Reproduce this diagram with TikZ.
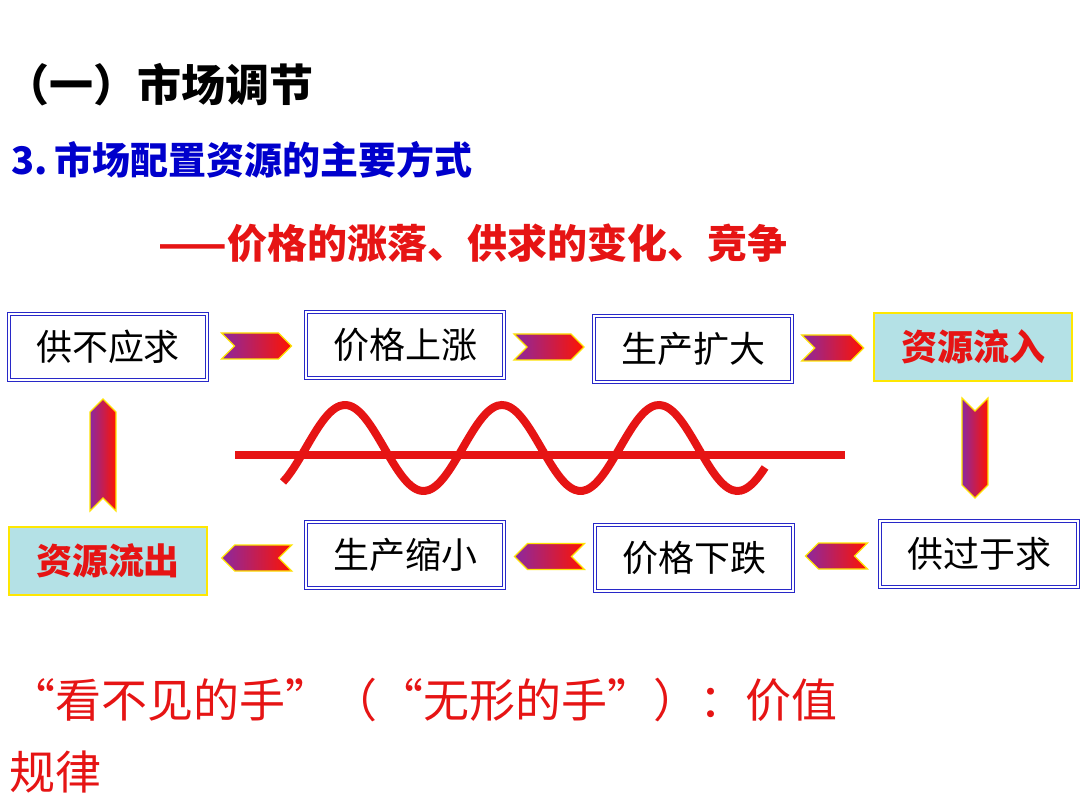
\documentclass[tikz,border=0pt]{standalone}
\usepackage{fontspec}
\setmainfont{Liberation Sans}
\newfontfamily\cjk{Noto Sans CJK SC}
\usetikzlibrary{shapes.symbols, positioning, calc}

\definecolor{boxblue}{RGB}{40,40,200}
\definecolor{lightcyan}{RGB}{180,225,230}
\definecolor{flowred}{RGB}{230,20,20}
\definecolor{arrpurple}{RGB}{140,40,160}

\tikzset{
	stepbox/.style={draw=boxblue, double=white, double distance=1.6pt, line width=0.8pt, fill=white,
		minimum width=198pt, minimum height=66pt, inner sep=0pt, font=\cjk\fontsize{36}{36}\selectfont},
	flowbox/.style={draw=yellow!90!orange, line width=2pt, fill=lightcyan, text=flowred,
		minimum width=198pt, minimum height=68pt, inner sep=0pt, font=\cjk\bfseries\fontsize{36}{36}\selectfont},
	fatarrow/.style={signal, draw=yellow!85!orange, line width=1.2pt, left color=arrpurple, right color=red!85!orange,
		minimum height=26pt, minimum width=70pt, inner sep=0pt},
}

\begin{document}
\begin{tikzpicture}[x=1pt, y=-1pt]
	\useasboundingbox (0,0) rectangle (1080,810);
	\fill[white] (0,0) rectangle (1080,810);

	% headings
	\node[anchor=west, font=\cjk\bfseries\fontsize{44}{44}\selectfont] (title) at (2,85) {（一）市场调节};
	\node[anchor=west, text=blue!80!black, font=\cjk\bfseries\fontsize{38}{38}\selectfont] (sub) at (8,160) {3.\,市场配置资源的主要方式};
	\node[anchor=west, text=flowred, font=\cjk\bfseries\fontsize{40}{40}\selectfont] (way) at (155,243) {——价格的涨落、供求的变化、竞争};

	% top row
	\node[stepbox] (short) at (108,347) {供不应求};
	\node[stepbox] (up) at (405,345) {价格上涨};
	\node[stepbox] (expand) at (693,349) {生产扩大};
	\node[flowbox] (inflow) at (973,347) {资源流入};

	% bottom row
	\node[flowbox] (outflow) at (108,561) {资源流出};
	\node[stepbox] (shrink) at (405,555) {生产缩小};
	\node[stepbox] (down) at (694,558) {价格下跌};
	\node[stepbox] (surplus) at (979,554) {供过于求};

	% arrows
	\node[fatarrow, signal from=west, signal to=east] (a1) at ($(short.east)!0.5!(up.west)$) {};
	\node[fatarrow, signal from=west, signal to=east] (a2) at ($(up.east)!0.5!(expand.west)$) {};
	\node[fatarrow, signal from=west, signal to=east, minimum width=62pt] (a3) at ($(expand.east)!0.5!(inflow.west)$) {};
	\node[fatarrow, signal from=west, signal to=east, minimum width=100pt, rotate=-90] (a4) at (975,448) {};
	\node[fatarrow, signal from=east, signal to=west, minimum width=62pt] (a5) at ($(surplus.west)!0.5!(down.east)$) {};
	\node[fatarrow, signal from=east, signal to=west] (a6) at ($(down.west)!0.5!(shrink.east)$) {};
	\node[fatarrow, signal from=east, signal to=west] (a7) at ($(shrink.west)!0.5!(outflow.east)$) {};
	\node[fatarrow, signal from=west, signal to=east, minimum width=112pt, rotate=90] (a8) at (103,455) {};

	% value line and price wave
	\coordinate (vl) at (235,455);
	\coordinate (vr) at (845,455);
	\draw[flowred, line width=8pt] (vl) -- (vr);
	\draw[flowred, line width=8pt, domain=283:765, samples=120, smooth]
		plot (\x, {448-43*cos((\x-345)/157*360)});

	% closing remark
	\node[anchor=west, text=flowred, font=\cjk\fontsize{46}{46}\selectfont] (hand) at (6,700) {“看不见的手”（“无形的手”）：价值};
	\node[anchor=west, text=flowred, font=\cjk\fontsize{46}{46}\selectfont] (law) at (6,772) {规律};
\end{tikzpicture}
\end{document}
